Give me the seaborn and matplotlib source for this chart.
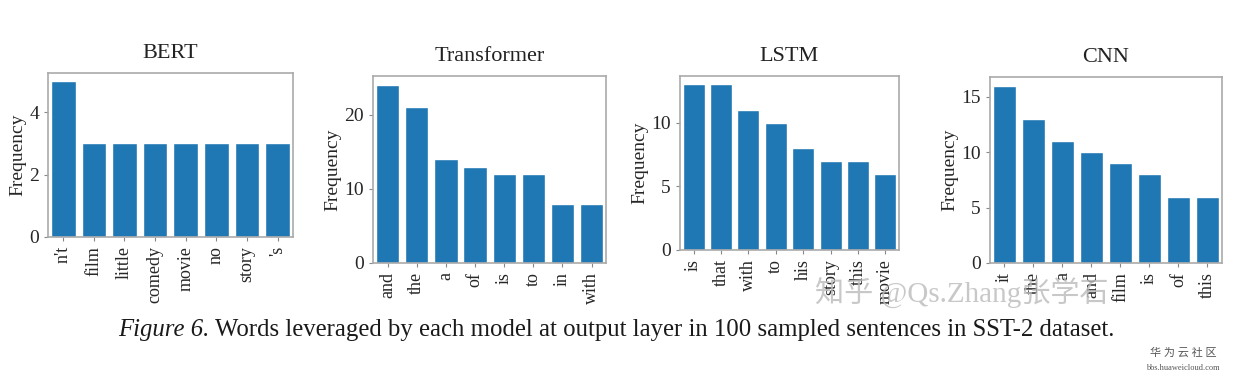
import numpy as np
import pandas as pd
import seaborn as sns
import matplotlib.pyplot as plt

# word frequencies
bert_words = ["n't", "film", "little", "comedy", "movie", "no", "story", "'s"]
bert_freq = [5, 3, 3, 3, 3, 3, 3, 3]

trans_words = ["and", "the", "a", "of", "is", "to", "in", "with"]
trans_freq = [24, 21, 14, 13, 12, 12, 8, 8]

lstm_words = ["is", "that", "with", "to", "his", "story", "this", "movie"]
lstm_freq = [13, 13, 11, 10, 8, 7, 7, 6]

cnn_words = ["it", "the", "a", "and", "film", "is", "of", "this"]
cnn_freq = [16, 13, 11, 10, 9, 8, 6, 6]

titles = ["BERT", "Transformer", "LSTM", "CNN"]
yticks = [[0, 2, 4], [0, 10, 20], [0, 5, 10], [0, 5, 10, 15]]

sns.set_style("ticks")
plt.rcParams['font.family'] = ['Liberation Serif', 'Noto Sans CJK SC', 'DejaVu Sans']

fig = plt.figure(figsize=(12.39, 3.77), dpi=100)

# panel boxes (left, bottom, width, height) in figure fractions
boxes = [
    [0.0387, 0.3714, 0.1977, 0.435],
    [0.3011, 0.3024, 0.1881, 0.496],
    [0.5488, 0.3369, 0.1768, 0.4615],
    [0.7990, 0.3024, 0.1872, 0.4934],
]

data = [(bert_words, bert_freq), (trans_words, trans_freq),
        (lstm_words, lstm_freq), (cnn_words, cnn_freq)]

for box, (words, freq), title, yt in zip(boxes, data, titles, yticks):
    ax = fig.add_axes(box)
    df = pd.DataFrame({'word': words, 'freq': freq})
    sns.barplot(data=df, x='word', y='freq', color='#1f77b4', saturation=1,
                width=0.8, ax=ax)
    ax.set_ylim(0, max(freq) * 1.05)
    ax.set_yticks(yt)
    ax.set_xlabel('')
    ax.set_ylabel('Frequency', fontsize=14, labelpad=2)
    ax.set_title(title, fontsize=16, pad=11, color='#222222')
    ax.tick_params(axis='x', labelrotation=90, labelsize=13, length=3, color='#888888')
    ax.tick_params(axis='y', labelsize=14, length=3, color='#888888')
    for sp in ax.spines.values():
        sp.set_color('#aaaaaa')
        sp.set_linewidth(1.2)

# caption: italic "Figure 6." followed by the plain text
cap1 = fig.text(118 / 1239, 0.125, 'Figure 6.', fontsize=17.8, style='italic',
                color='#1a1a1a', ha='left', va='center')
fig.canvas.draw()
bb = cap1.get_window_extent()
fig.text((bb.x1 + 6) / 1239, 0.125,
         'Words leveraged by each model at output layer in 100 sampled sentences in SST-2 dataset.',
         fontsize=17.8, color='#1a1a1a', ha='left', va='center')

# watermarks
fig.text(0.658, 0.225, '知乎 @Qs.Zhang张学石', fontsize=21, color='#bbbbbb', alpha=0.8,
         ha='left', va='center')
fig.text(0.955, 0.065, '华 为 云 社 区', fontsize=8, color='#555555', ha='center', va='center')
fig.text(0.955, 0.025, 'bbs.huaweicloud.com', fontsize=6, color='#555555', ha='center', va='center')

plt.savefig('out.png', dpi=100)
